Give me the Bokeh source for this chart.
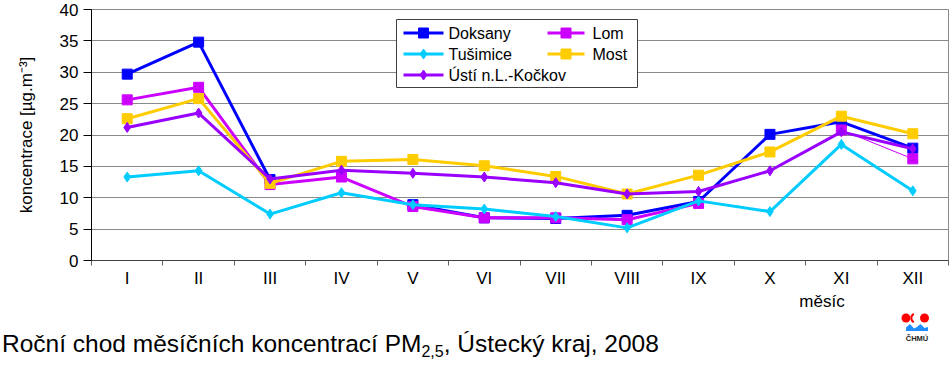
import math
from bokeh.plotting import figure
from bokeh.models import Range1d, FixedTicker, Div
from bokeh.layouts import column
from bokeh.embed import file_html
from bokeh.resources import INLINE
from bokeh.core.properties import value

NaN = float("nan")

# ---------------- data ----------------
months = ["I", "II", "III", "IV", "V", "VI", "VII", "VIII", "IX", "X", "XI", "XII"]
doksany = [29.7, 34.8, 12.9, NaN, 8.9, 6.8, 6.7, 7.2, 9.4, 20.1, 22.1, 17.9]
lom = [25.6, 27.6, 12.1, 13.3, 8.6, 6.8, 6.8, 6.5, 9.1, NaN, 20.8, 16.2]
tusimice = [13.3, 14.3, 7.4, 10.8, 8.9, 8.2, 7.0, 5.2, 9.5, 7.8, 18.5, 11.1]
most = [22.6, 25.8, 12.3, 15.8, 16.1, 15.1, 13.4, 10.6, 13.6, 17.3, 23.0, 20.2]
usti = [21.2, 23.5, 13.0, 14.4, 13.9, 13.3, 12.4, 10.6, 11.0, 14.3, 20.5, 17.8]

series_names = ["Doksany", "Lom", "Tušimice", "Most", "Ústí n.L.-Kočkov"]
y_ticks = [0, 5, 10, 15, 20, 25, 30, 35, 40]
y_label = "koncentrace [µg.m⁻³]"
x_label = "měsíc"
caption_main = "Roční chod měsíčních koncentrací PM"
caption_sub = "2,5"
caption_rest = ", Ústecký kraj, 2008"
logo_text = "ČHMÚ"

# ---------------- styling ----------------
FONT = "Liberation Sans"
C_DOK = "#0000FF"
C_LOM = "#CC00FF"
C_TUS = "#00CCFF"
C_MOST = "#FFCC00"
C_USTI = "#9900FF"
GRID = "#8a8a8a"

W = 950
H1 = 290
H2 = 76
FL, FR, FT, FB = 91, 948, 9, 260   # frame edges in page pixels

x = list(range(1, 13))

p = figure(width=W, height=H1, output_backend="svg", toolbar_location=None,
           x_range=Range1d(0.5, 12.5), y_range=Range1d(0, 40),
           min_border_left=FL, min_border_right=W - FR,
           min_border_top=FT, min_border_bottom=H1 - FB)
p.background_fill_color = "white"
p.border_fill_color = "white"
p.outline_line_color = GRID
p.outline_line_width = 1
p.xgrid.visible = False
p.ygrid.grid_line_color = GRID
p.ygrid.grid_line_width = 1
p.ygrid.ticker = FixedTicker(ticks=y_ticks)

# y axis
p.yaxis.ticker = FixedTicker(ticks=y_ticks)
p.yaxis.axis_line_color = "black"
p.yaxis.major_tick_line_color = "black"
p.yaxis.major_tick_out = 8
p.yaxis.major_tick_in = 0
p.yaxis.minor_tick_line_color = None
p.yaxis.major_label_text_font = FONT
p.yaxis.major_label_text_font_size = "17px"
p.yaxis.major_label_text_color = "black"
p.yaxis.major_label_standoff = 5
p.yaxis.axis_label = y_label
p.yaxis.axis_label_text_font = FONT
p.yaxis.axis_label_text_font_size = "17px"
p.yaxis.axis_label_text_font_style = "normal"
p.yaxis.axis_label_text_color = "black"
p.yaxis.axis_label_standoff = 21

# x axis: labels at month centres, small ticks at the boundaries
p.xaxis.ticker = FixedTicker(ticks=x, minor_ticks=[i + 0.5 for i in range(0, 13)])
p.xaxis.major_label_overrides = {i: m for i, m in zip(x, months)}
p.xaxis.axis_line_color = "#404040"
p.xaxis.major_tick_out = 0
p.xaxis.major_tick_in = 0
p.xaxis.minor_tick_out = 5
p.xaxis.minor_tick_in = 0
p.xaxis.minor_tick_line_color = "#606060"
p.xaxis.major_label_text_font = FONT
p.xaxis.major_label_text_font_size = "17px"
p.xaxis.major_label_text_color = "black"
p.xaxis.major_label_standoff = 3

LW = 3
# series (drawing order as in the original)
p.line(x, doksany, line_color=C_DOK, line_width=LW)
p.scatter(x, doksany, marker="square", size=10, fill_color=C_DOK, line_color=C_DOK)

p.line(x[:11], lom[:11], line_color=C_LOM, line_width=LW)
p.line(x[10:], lom[10:], line_color=C_LOM, line_width=1)
p.scatter(x, lom, marker="square", size=10, fill_color=C_LOM, line_color=C_LOM)

p.line(x, tusimice, line_color=C_TUS, line_width=LW)
p.scatter(x, tusimice, marker="diamond", size=10, fill_color=C_TUS, line_color=C_TUS)

p.line(x, most, line_color=C_MOST, line_width=LW)
p.scatter(x, most, marker="square", size=10, fill_color=C_MOST, line_color=C_MOST)

p.line(x, usti, line_color=C_USTI, line_width=LW)
p.scatter(x, usti, marker="diamond", size=10, fill_color=C_USTI, line_color=C_USTI)


# ---------------- manual legend (pixel layout -> data coordinates) ----------------
def dx(px):
    return 0.5 + (px - FL) / (FR - FL) * 12


def dy(py):
    return 40 - (py - FT) / (FB - FT) * 40


p.quad(left=[dx(396)], right=[dx(637)], top=[dy(19)], bottom=[dy(87)],
       fill_color="white", line_color="#404040", line_width=1)

legend_items = [
    (series_names[0], C_DOK, "square", 0, 0),
    (series_names[1], C_LOM, "square", 1, 0),
    (series_names[2], C_TUS, "diamond", 0, 1),
    (series_names[3], C_MOST, "square", 1, 1),
    (series_names[4], C_USTI, "diamond", 0, 2),
]
col_glyph = [(403, 443, 448), (547, 584, 592)]
row_y = [32.5, 53.5, 74.5]
for name, color, marker, c, r in legend_items:
    g0, g1, tx = col_glyph[c]
    yy = dy(row_y[r])
    p.line([dx(g0), dx(g1)], [yy, yy], line_color=color, line_width=LW)
    p.scatter([dx((g0 + g1) / 2)], [yy], marker=marker, size=10,
              fill_color=color, line_color=color)
    p.text([dx(tx)], [yy], text=[name], text_font=value(FONT), text_font_size="16px",
           text_baseline="middle", text_align="left", text_color="black")

# ---------------- bottom strip: x title, caption and logo (inline SVG, real text) ----------------
top = H1
svg = f"""<svg xmlns="http://www.w3.org/2000/svg" width="{W}" height="{H2}" viewBox="0 {top} {W} {H2}" style="display:block">
<text x="822" y="306.5" font-family="{FONT}" font-size="17px" text-anchor="middle" fill="#000">{x_label}</text>
<text x="2" y="352" font-family="{FONT}" font-size="24.5px" fill="#000">{caption_main}<tspan font-size="16px" dy="5">{caption_sub}</tspan><tspan dy="-5">{caption_rest}</tspan></text>
<circle cx="906" cy="318" r="4.5" fill="#FF0000"/>
<path d="M 913.8 313.8 A 4.8 4.8 0 0 0 913.8 322.2" fill="none" stroke="#FF0000" stroke-width="2"/>
<circle cx="924.5" cy="318" r="4.5" fill="#FF0000"/>
<path d="M 906 331 L 906 327.5 L 910 324 L 914 328.5 L 917 327 L 920.5 324 L 924.5 328 L 928 327 L 928 331 Z" fill="#1E8CFF"/>
<text x="917" y="341" font-family="{FONT}" font-size="7.5px" font-weight="bold" text-anchor="middle" fill="#222">{logo_text}</text>
</svg>"""

strip = Div(text=svg, width=W, height=H2, styles={"margin": "0", "padding": "0"})

layout = column(p, strip, spacing=0)
open("out.html", "w").write(file_html(layout, INLINE))
